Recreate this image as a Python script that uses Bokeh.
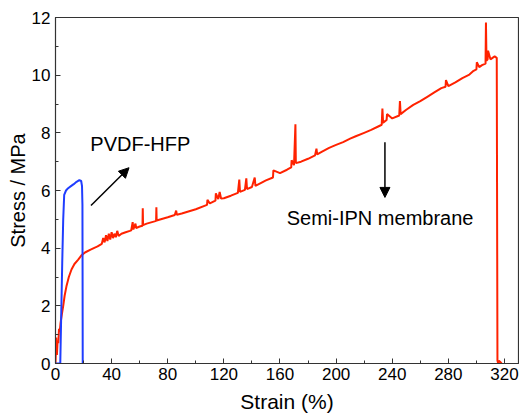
from bokeh.plotting import figure
from bokeh.models import Label, Arrow, NormalHead, Range1d, FixedTicker
from bokeh.embed import file_html
from bokeh.resources import INLINE

# Semi-IPN membrane (red)
semi_strain = [0.0, 0.5, 1.0, 1.5, 2.0, 2.5, 3.0, 3.6, 4.5, 5.5, 6.5, 7.9, 9.5, 11.4, 13.5, 16.2, 18.5, 21, 25, 30,
               33, 34, 35, 36, 37, 38, 39, 40, 41, 42, 43, 44, 45, 47, 50, 53, 54, 55, 55.5, 57, 57.5, 60, 62, 62.2, 62.4,
               65, 70, 71.7, 71.9, 72.1, 80, 85, 86, 86.5, 90, 100, 108, 108.3, 110, 114, 114.3, 116, 117, 118, 120, 125,
               130, 131, 131.5, 135, 136, 136.5, 140, 142, 142.5, 150, 155, 155.3, 160, 165, 168, 168.3, 170, 171, 171.3,
               175, 180, 185, 186, 186.5, 190, 195, 200, 205, 210, 214, 220, 225, 230, 232.5, 233, 233.5, 236, 236.3,
               240, 245, 245.5, 246, 250, 255, 260, 265, 270, 275, 278, 278.3, 280, 285, 290, 295, 298, 300, 300.3,
               302, 304, 306.5, 306.8, 307.2, 308, 308.3, 310, 313, 314.5, 315, 315.5, 316, 317, 318]
semi_stress = [0.0, 0.9, 0.3, 0.8, 0.7, 1.2, 1.1, 1.4, 1.7, 2.0, 2.35, 2.7, 3.0, 3.26, 3.45, 3.6, 3.75, 3.85, 3.95, 4.06,
               4.15, 4.35, 4.2, 4.45, 4.25, 4.5, 4.3, 4.55, 4.35, 4.5, 4.38, 4.6, 4.42, 4.5, 4.55, 4.6, 4.62, 4.9, 4.65, 4.85, 4.7, 4.75, 4.78, 5.38, 4.8,
               4.85, 4.92, 4.95, 5.42, 4.96, 5.07, 5.15, 5.3, 5.16, 5.2, 5.35, 5.5, 5.68, 5.55, 5.65, 5.9, 5.7, 5.95, 5.72, 5.73, 5.82,
               5.92, 6.38, 5.95, 6.02, 6.42, 6.05, 6.12, 6.45, 6.16, 6.35, 6.45, 6.7, 6.6, 6.72, 6.8, 7.05, 6.88, 8.3, 6.95,
               7.0, 7.1, 7.22, 7.45, 7.25, 7.35, 7.48, 7.58, 7.68, 7.8, 7.88, 8.0, 8.1, 8.22, 8.28, 8.84, 8.35, 8.45, 8.65,
               8.5, 8.6, 9.1, 8.65, 8.8, 8.97, 9.1, 9.25, 9.4, 9.55, 9.6, 9.83, 9.62, 9.75, 9.9, 10.02, 10.15, 10.2, 10.45,
               10.28, 10.35, 10.4, 11.83, 10.5, 10.55, 10.85, 10.55, 10.65, 10.6, 0.1, 0.0, 0.1, 0.05, 0.0]

# PVDF-HFP (blue)
pvdf_strain = [0.0, 3.4, 4.0, 4.8, 5.5, 6.2, 7.5, 9.0, 11.0, 13.0, 15.0, 17.0, 18.3, 18.9, 19.2, 19.3, 19.4]
pvdf_stress = [0.0, 0.0, 1.5, 3.5, 5.0, 5.85, 6.0, 6.08, 6.15, 6.22, 6.3, 6.36, 6.33, 6.15, 5.5, 3.0, 0.0]

x_ticks = [0, 40, 80, 120, 160, 200, 240, 280, 320]
y_ticks = [0, 2, 4, 6, 8, 10, 12]

FONT = "Liberation Sans"

p = figure(width=519, height=418, output_backend="svg", toolbar_location=None,
           x_range=Range1d(0, 330), y_range=Range1d(0, 12),
           min_border_left=55, min_border_top=17, min_border_right=1, min_border_bottom=55)
p.background_fill_color = "white"
p.border_fill_color = "white"
p.outline_line_color = "#333333"
p.outline_line_width = 1.2
p.grid.visible = False

p.line(semi_strain, semi_stress, line_color="#ff2200", line_width=2)
p.line(pvdf_strain, pvdf_stress, line_color="#1f3dff", line_width=2)

for ax in (p.xaxis[0], p.yaxis[0]):
    ax.major_tick_in = 5
    ax.major_tick_out = 0
    ax.minor_tick_in = 3
    ax.minor_tick_out = 0
    ax.axis_line_color = "#333333"
    ax.major_tick_line_color = "#333333"
    ax.minor_tick_line_color = "#333333"
    ax.major_label_text_font = FONT
    ax.major_label_text_font_size = "17px"
    ax.major_label_text_color = "black"
    ax.axis_label_text_font = FONT
    ax.axis_label_text_font_style = "normal"
    ax.axis_label_text_color = "black"

p.xaxis[0].ticker = FixedTicker(ticks=x_ticks, minor_ticks=list(range(0, 331, 20)))
p.yaxis[0].ticker = FixedTicker(ticks=y_ticks, minor_ticks=list(range(0, 13, 1)))
p.xaxis[0].axis_label = "Strain (%)"
p.yaxis[0].axis_label = "Stress / MPa"
p.xaxis[0].axis_label_text_font_size = "21px"
p.yaxis[0].axis_label_text_font_size = "20px"
p.xaxis[0].major_label_standoff = 4
p.yaxis[0].major_label_standoff = 5
p.xaxis[0].axis_label_standoff = 7
p.yaxis[0].axis_label_standoff = 0

p.add_layout(Label(x=24.8, y=7.6, text="PVDF-HFP", text_font=FONT, text_font_size="20px",
                   text_baseline="middle", text_color="black"))
p.add_layout(Label(x=164.8, y=5.06, text="Semi-IPN membrane", text_font=FONT, text_font_size="20px",
                   text_baseline="middle", text_color="black"))
p.add_layout(Arrow(x_start=25.3, y_start=5.48, x_end=52.4, y_end=6.79, line_width=1.5,
                   end=NormalHead(size=10, fill_color="black", line_color="black")))
p.add_layout(Arrow(x_start=234.8, y_start=7.67, x_end=234.8, y_end=5.76, line_width=1.5,
                   end=NormalHead(size=10, fill_color="black", line_color="black")))

open("out.html", "w").write(file_html(p, INLINE))
